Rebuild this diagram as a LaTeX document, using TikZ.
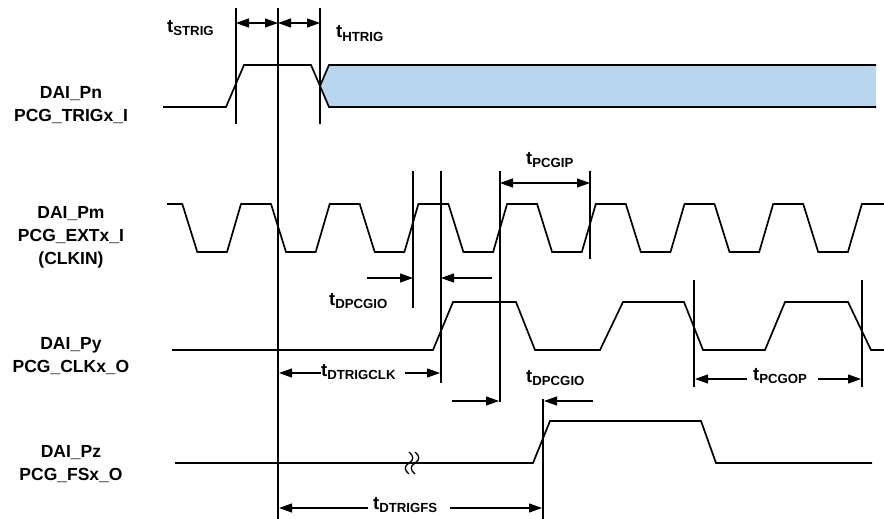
\documentclass[tikz,border=0pt]{standalone}
\usepackage{fontspec}
\setmainfont{Liberation Sans}
\usetikzlibrary{arrows.meta}
\definecolor{trigblue}{RGB}{184,214,238}
\newcommand{\tsub}[1]{t\raisebox{-3pt}{\fontsize{13.2}{13.2}\selectfont #1}}
\begin{document}
\begin{tikzpicture}[x=1pt,y=-1pt,
  sig/.style={line width=1.7pt, line join=miter},
  vline/.style={line width=1.4pt},
  dim/.style={line width=1.2pt, -{Triangle[length=13pt,width=9pt]}},
  ddim/.style={line width=1.2pt, {Triangle[length=13pt,width=9pt]}-{Triangle[length=13pt,width=9pt]}},
  lbl/.style={font=\fontsize{17.5}{23}\selectfont\bfseries, align=center, inner sep=0pt},
  tl/.style={font=\fontsize{18.5}{18.5}\selectfont\bfseries, inner sep=0pt, anchor=base west}]
\useasboundingbox (0,0) rectangle (884,519);

% signal names
\node[lbl] (ntrig) at (71,105.5) {DAI\_Pn\\PCG\_TRIGx\_I};
\node[lbl] (next) at (71,237.5) {DAI\_Pm\\PCG\_EXTx\_I\\(CLKIN)};
\node[lbl] (nclk) at (71,356.5) {DAI\_Py\\PCG\_CLKx\_O};
\node[lbl] (nfs) at (71,464) {DAI\_Pz\\PCG\_FSx\_O};

% trigger input
\fill[trigblue] (320,86) -- (329,65) -- (876,65) -- (876,107) -- (329,107) -- cycle;
\draw[sig] (876,65) -- (329,65) -- (320,86) -- (329,107) -- (876,107);
\draw[sig] (163,107) -- (226,107) -- (244,65) -- (311,65) -- (320,86);

% clock input
\draw[sig] (167,204) -- (182.3,204) -- (197.3,252) -- (227,252)
  \foreach \k in {0,...,6} {
    -- ({227+88.7*\k+14},204) -- ({227+88.7*\k+44},204)
    -- ({227+88.7*\k+59},252) -- ({227+88.7*\k+88.7},252)}
  -- (861.9,204) -- (884,204);

% clock output
\draw[sig] (172,350) -- (433,350) -- (453,302) -- (516,302) -- (535,350)
  -- (600,350) -- (623,302) -- (684,302) -- (703,350)
  -- (765,350) -- (785,302) -- (848,302) -- (871,350) -- (884,350);

% frame sync output
\draw[sig] (175,463) -- (533,463) -- (550,421) -- (701,421) -- (716,463) -- (872,463);
\draw[line width=1.3pt] (409,452) .. controls (414,456) and (414,460) .. (409,463)
  .. controls (404,466) and (404,470) .. (409,474);
\draw[line width=1.3pt] (415,452) .. controls (420,456) and (420,460) .. (415,463)
  .. controls (410,466) and (410,470) .. (415,474);

% reference lines
\coordinate (v1t) at (236,8);   \coordinate (v1b) at (236,124);
\coordinate (v2t) at (278,8);   \coordinate (v2b) at (278,519);
\coordinate (v3t) at (320,8);   \coordinate (v3b) at (320,124);
\coordinate (v4t) at (413,171); \coordinate (v4b) at (413,308);
\coordinate (v5t) at (441,171); \coordinate (v5b) at (441,383);
\coordinate (v6t) at (500,171); \coordinate (v6b) at (500,402);
\coordinate (v7t) at (590,171); \coordinate (v7b) at (590,259);
\coordinate (v8t) at (694,280); \coordinate (v8b) at (694,387);
\coordinate (v9t) at (862,280); \coordinate (v9b) at (862,387);
\coordinate (v10t) at (543,399); \coordinate (v10b) at (543,519);
\foreach \i in {1,...,10} {\draw[vline] (v\i t) -- (v\i b);}

% timing labels
\node[tl] (lstrig) at (167,33) {\tsub{STRIG}};
\node[tl] (lhtrig) at (336,38) {\tsub{HTRIG}};
\node[tl] (lpcgip) at (526,164) {\tsub{PCGIP}};
\node[tl] (ldpcgio1) at (329,305) {\tsub{DPCGIO}};
\node[tl] (ldtrigclk) at (321,376) {\tsub{DTRIGCLK}};
\node[tl] (ldpcgio2) at (526,382) {\tsub{DPCGIO}};
\node[tl] (lpcgop) at (753,380) {\tsub{PCGOP}};
\node[tl] (ldtrigfs) at (373,509) {\tsub{DTRIGFS}};

% dimension arrows
\draw[ddim] (236,23) -- (278,23);
\draw[ddim] (278,23) -- (320,23);
\draw[ddim] (500,183) -- (590,183);
\draw[dim] (367,278) -- (413,278);
\draw[dim] (492,278) -- (441,278);
\draw[dim] (321,373) -- (279,373);
\draw[dim] (405,373) -- (440,373);
\draw[dim] (452,401) -- (499,401);
\draw[dim] (593,401) -- (544,401);
\draw[dim] (747,379) -- (695,379);
\draw[dim] (818,379) -- (861,379);
\draw[dim] (368,508) -- (279,508);
\draw[dim] (450,508) -- (542,508);
\end{tikzpicture}
\end{document}
